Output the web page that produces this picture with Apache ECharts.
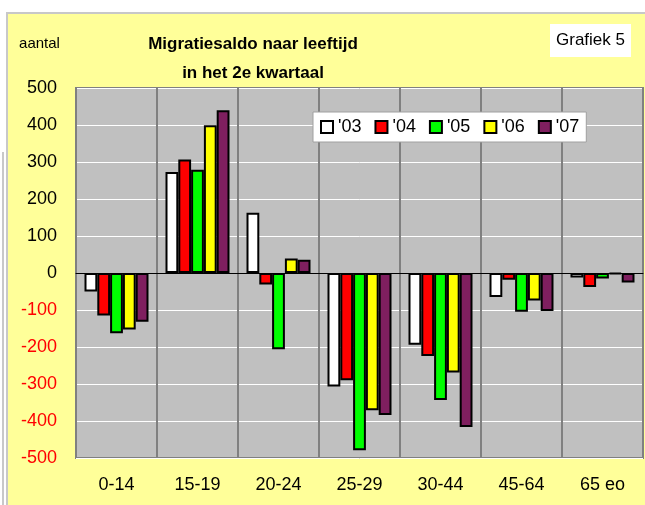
<!DOCTYPE html>
<html>
<head>
<meta charset="utf-8">
<script src="https://cdn.jsdelivr.net/npm/echarts@6/dist/echarts.min.js"></script>
<style>
html,body{margin:0;padding:0;background:#fff;}
#c{width:645px;height:505px;}
</style>
</head>
<body>
<div id="c"></div>
<script>
const categories = ['0-14', '15-19', '20-24', '25-29', '30-44', '45-64', '65 eo'];
const seriesNames = ["'03", "'04", "'05", "'06", "'07"];
const colors = ['#ffffff', '#ff0000', '#00ff00', '#ffff00', '#7f1f5f'];
const v03 = [-50, 273, 163, -307, -194, -65, -12];
const v04 = [-115, 307, -31, -290, -224, -18, -38];
const v05 = [-163, 279, -206, -479, -343, -105, -15];
const v06 = [-153, 399, 39, -371, -269, -74, -3];
const v07 = [-132, 440, 36, -384, -416, -103, -26];
const values = [v03, v04, v05, v06, v07];
const yMin = -500, yMax = 500, yStep = 100;

const chart = echarts.init(document.getElementById('c'), null, {renderer: 'canvas'});
const font = '"Liberation Sans", Arial, sans-serif';

chart.setOption({
  backgroundColor: '#ffffff',
  animation: false,
  graphic: [
    {type: 'rect', z: -10, shape: {x: 7, y: 13, width: 660, height: 520},
     style: {fill: '#ffff99', stroke: '#c8c8c8', lineWidth: 2}},
    {type: 'line', z: -10, shape: {x1: 3, y1: 152, x2: 3, y2: 505},
     style: {stroke: '#c8c8c8', lineWidth: 2}},
    {type: 'text', x: 39.5, y: 44,
     style: {text: 'aantal', font: '15px ' + font, fill: '#000', align: 'center', verticalAlign: 'middle'}},
    {type: 'rect', shape: {x: 550, y: 24, width: 81, height: 33}, style: {fill: '#ffffff'}},
    {type: 'text', x: 590.5, y: 40.5,
     style: {text: 'Grafiek 5', font: '17px ' + font, fill: '#000', align: 'center', verticalAlign: 'middle'}}
  ],
  title: {
    text: 'Migratiesaldo naar leeftijd\nin het 2e kwartaal',
    left: 248, top: 25, textAlign: 'center',
    textStyle: {fontFamily: font, fontSize: 17, fontWeight: 'bold', color: '#000', lineHeight: 29}
  },
  legend: {
    data: seriesNames,
    left: 313, top: 112,
    padding: [6, 7, 6, 7],
    itemWidth: 12, itemHeight: 12, itemGap: 13,
    backgroundColor: '#ffffff', borderColor: '#a0a0a0', borderWidth: 1,
    icon: 'rect',
    textStyle: {fontFamily: font, fontSize: 18, color: '#000'}
  },
  grid: {
    left: 76, top: 88, right: 2, bottom: 47,
    show: true, backgroundColor: '#c0c0c0', borderColor: '#808080', borderWidth: 2
  },
  xAxis: {
    type: 'category', data: categories,
    axisLine: {onZero: true, lineStyle: {color: '#000', width: 1}},
    axisTick: {show: false},
    axisLabel: {fontFamily: font, fontSize: 18, color: '#000', margin: 18, interval: 0},
    splitLine: {show: true, interval: 0, lineStyle: {color: '#808080', width: 2}},
    z: 3
  },
  yAxis: {
    type: 'value', min: yMin, max: yMax, interval: yStep,
    axisLine: {show: false}, axisTick: {show: false},
    axisLabel: {fontFamily: font, fontSize: 18, margin: 19,
      color: v => (Number(v) < 0 ? '#ff0000' : '#000000')},
    splitLine: {lineStyle: {color: '#ffffff', width: 1}}
  },
  series: seriesNames.map((n, i) => ({
    name: n, type: 'bar', data: values[i],
    barGap: '0%', barCategoryGap: '21%',
    itemStyle: {color: colors[i], borderColor: '#000', borderWidth: 2},
    emphasis: {disabled: true},
    z: 4
  }))
});
</script>
</body>
</html>
